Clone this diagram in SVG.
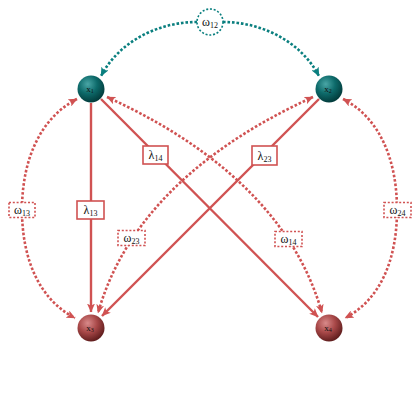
<svg xmlns="http://www.w3.org/2000/svg" width="420" height="420" viewBox="0 0 420 420">
<style>
.solid{fill:none;stroke:#d05252;stroke-width:2.4}
.dot{fill:none;stroke:#d05252;stroke-width:2.6;stroke-dasharray:2.6 1.9}
.tdot{fill:none;stroke:#0a7f7f;stroke-width:2.6;stroke-dasharray:2.6 1.9}
.lbox{fill:#fff;stroke:#d05252;stroke-width:1.6}
.wbox{fill:#fff;stroke:#d05252;stroke-width:1.6;stroke-dasharray:2 1.8}
.lab{font-family:"Liberation Serif","DejaVu Serif",serif;font-size:12px;fill:#111;text-anchor:middle}
.sub{font-size:8px}
.nl{font-family:"Liberation Serif","DejaVu Serif",serif;font-size:9px;fill:#111;text-anchor:middle}
</style>
<defs>
<marker id="ar" viewBox="0 0 9 8" markerWidth="9" markerHeight="8" refX="8.5" refY="4" orient="auto-start-reverse" markerUnits="userSpaceOnUse">
<path d="M0,0 L9,4 L0,8 L2.2,4 z" fill="#d05252"/>
</marker>
<marker id="at" viewBox="0 0 9 8" markerWidth="9" markerHeight="8" refX="8.5" refY="4" orient="auto-start-reverse" markerUnits="userSpaceOnUse">
<path d="M0,0 L9,4 L0,8 L2.2,4 z" fill="#0a7f7f"/>
</marker>
<radialGradient id="gt" cx="0.38" cy="0.32" r="0.7">
<stop offset="0" stop-color="#4aa6a6"/>
<stop offset="0.5" stop-color="#0d6a6a"/>
<stop offset="1" stop-color="#023a3a"/>
</radialGradient>
<radialGradient id="gr" cx="0.38" cy="0.32" r="0.7">
<stop offset="0" stop-color="#d88a8a"/>
<stop offset="0.5" stop-color="#a84848"/>
<stop offset="1" stop-color="#5e1c1c"/>
</radialGradient>
</defs>
<g id="connectors">
<path class="tdot" d="M197,22 C160,22 120,40 101,76" marker-end="url(#at)"/>
<path class="tdot" d="M223,22 C260,22 300,40 319,76" marker-end="url(#at)"/>
<path class="dot" d="M77,99 C40,118 22,160 22,210 C22,260 40,300 75,318" marker-start="url(#ar)" marker-end="url(#ar)"/>
<path class="dot" d="M343,99 C380,118 397,160 397,210 C397,260 380,300 345,318" marker-start="url(#ar)" marker-end="url(#ar)"/>
<path class="dot" d="M107,97 C190,135 290,200 322,313" marker-start="url(#ar)" marker-end="url(#ar)"/>
<path class="dot" d="M313,97 C230,135 130,200 98,313" marker-start="url(#ar)" marker-end="url(#ar)"/>
<path class="solid" d="M91,103 L91,312" marker-end="url(#ar)"/>
<path class="solid" d="M101,99 L318,317" marker-end="url(#ar)"/>
<path class="solid" d="M319,99 L102,316" marker-end="url(#ar)"/>
</g>
<g id="w12">
<circle cx="210" cy="22" r="13" fill="#fff" stroke="#0a7f7f" stroke-width="1.6" stroke-dasharray="2 1.8"/>
<text class="lab" x="210" y="25.5">ω<tspan class="sub" dy="2">12</tspan></text>
</g>
<g id="w13">
<rect class="wbox" x="9" y="202.5" width="26" height="15"/>
<text class="lab" x="22" y="213.5">ω<tspan class="sub" dy="2">13</tspan></text>
</g>
<g id="w24">
<rect class="wbox" x="384" y="202.5" width="27" height="15"/>
<text class="lab" x="397.5" y="213.5">ω<tspan class="sub" dy="2">24</tspan></text>
</g>
<g id="w23">
<rect class="wbox" x="118" y="230.5" width="27" height="15"/>
<text class="lab" x="131.5" y="241.5">ω<tspan class="sub" dy="2">23</tspan></text>
</g>
<g id="w14">
<rect class="wbox" x="275" y="231.5" width="27" height="15"/>
<text class="lab" x="288.5" y="242.5">ω<tspan class="sub" dy="2">14</tspan></text>
</g>
<g id="l13">
<rect class="lbox" x="77" y="201" width="27" height="18"/>
<text class="lab" x="90.5" y="214">λ<tspan class="sub" dy="2">13</tspan></text>
</g>
<g id="l14">
<rect class="lbox" x="143" y="146" width="25" height="18"/>
<text class="lab" x="155.5" y="159">λ<tspan class="sub" dy="2">14</tspan></text>
</g>
<g id="l23">
<rect class="lbox" x="252" y="146" width="25" height="19"/>
<text class="lab" x="264.5" y="159.5">λ<tspan class="sub" dy="2">23</tspan></text>
</g>
<g id="x1">
<circle cx="91" cy="89" r="13.5" fill="url(#gt)"/>
<text class="nl" x="90" y="91.5">x<tspan font-size="6" dy="1.5">1</tspan></text>
</g>
<g id="x2">
<circle cx="329" cy="89" r="13.5" fill="url(#gt)"/>
<text class="nl" x="328" y="91.5">x<tspan font-size="6" dy="1.5">2</tspan></text>
</g>
<g id="x3">
<circle cx="91" cy="328" r="13.5" fill="url(#gr)"/>
<text class="nl" x="90" y="330.5">x<tspan font-size="6" dy="1.5">3</tspan></text>
</g>
<g id="x4">
<circle cx="329" cy="328" r="13.5" fill="url(#gr)"/>
<text class="nl" x="328" y="330.5">x<tspan font-size="6" dy="1.5">4</tspan></text>
</g>
</svg>
